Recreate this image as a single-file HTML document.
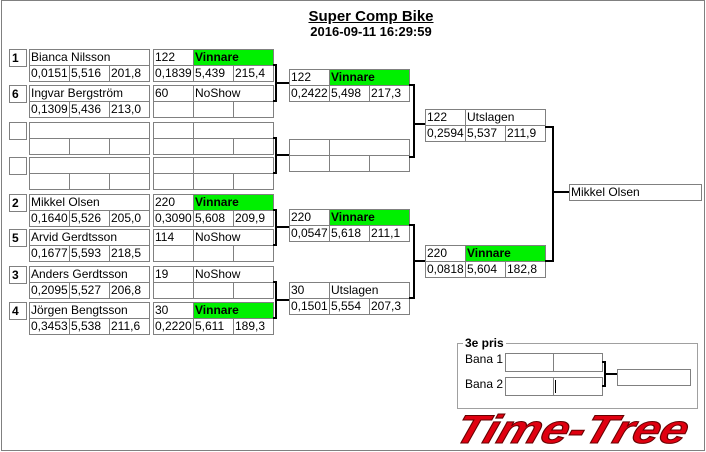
<!DOCTYPE html>
<html><head><meta charset="utf-8"><style>
body{margin:0;width:706px;height:452px;background:#fff;position:relative;overflow:hidden;font-family:"Liberation Sans",sans-serif}
.c{position:absolute;border:1px solid #808080;box-sizing:border-box;height:17px;font-size:12px;line-height:15px;padding-left:1px;overflow:hidden;white-space:nowrap;color:#000;background:#fff}
.w{width:121px}.n{width:41px}.s{width:81px}
.g{background:#00f000;font-weight:bold}
.sd{position:absolute;left:9px;width:18px;height:18px;border:1px solid #808080;box-sizing:border-box;font-weight:bold;font-size:12px;line-height:16px;padding-left:2px}
.t{position:absolute;font-weight:bold;text-align:center;width:200px;left:271px}
</style></head><body>
<div style="position:absolute;left:1px;top:0;width:704px;height:451px;border:1px solid #808080;box-sizing:border-box"></div>
<div class="t" style="top:8px;font-size:15px;text-decoration:underline">Super Comp Bike</div>
<div class="t" style="top:24px;font-size:13px">2016-09-11 16:29:59</div>

<!-- Round 1 -->
<div class="sd" style="top:49px">1</div>
<div class="c w" style="left:29px;top:49px">Bianca Nilsson</div>
<div class="c n" style="left:29px;top:65px">0,0151</div><div class="c n" style="left:69px;top:65px">5,516</div><div class="c n" style="left:109px;top:65px">201,8</div>
<div class="c n" style="left:153px;top:49px">122</div><div class="c s g" style="left:193px;top:49px">Vinnare</div>
<div class="c n" style="left:153px;top:65px">0,1839</div><div class="c n" style="left:193px;top:65px">5,439</div><div class="c n" style="left:233px;top:65px">215,4</div>

<div class="sd" style="top:85px">6</div>
<div class="c w" style="left:29px;top:85px">Ingvar Bergström</div>
<div class="c n" style="left:29px;top:101px">0,1309</div><div class="c n" style="left:69px;top:101px">5,436</div><div class="c n" style="left:109px;top:101px">213,0</div>
<div class="c n" style="left:153px;top:85px">60</div><div class="c s" style="left:193px;top:85px">NoShow</div>
<div class="c n" style="left:153px;top:101px"></div><div class="c n" style="left:193px;top:101px"></div><div class="c n" style="left:233px;top:101px"></div>

<div class="sd" style="top:122px"></div>
<div class="c w" style="left:29px;top:122px"></div>
<div class="c n" style="left:29px;top:138px"></div><div class="c n" style="left:69px;top:138px"></div><div class="c n" style="left:109px;top:138px"></div>
<div class="c n" style="left:153px;top:122px"></div><div class="c s" style="left:193px;top:122px"></div>
<div class="c n" style="left:153px;top:138px"></div><div class="c n" style="left:193px;top:138px"></div><div class="c n" style="left:233px;top:138px"></div>

<div class="sd" style="top:157px"></div>
<div class="c w" style="left:29px;top:157px"></div>
<div class="c n" style="left:29px;top:173px"></div><div class="c n" style="left:69px;top:173px"></div><div class="c n" style="left:109px;top:173px"></div>
<div class="c n" style="left:153px;top:157px"></div><div class="c s" style="left:193px;top:157px"></div>
<div class="c n" style="left:153px;top:173px"></div><div class="c n" style="left:193px;top:173px"></div><div class="c n" style="left:233px;top:173px"></div>

<div class="sd" style="top:194px">2</div>
<div class="c w" style="left:29px;top:194px">Mikkel Olsen</div>
<div class="c n" style="left:29px;top:210px">0,1640</div><div class="c n" style="left:69px;top:210px">5,526</div><div class="c n" style="left:109px;top:210px">205,0</div>
<div class="c n" style="left:153px;top:194px">220</div><div class="c s g" style="left:193px;top:194px">Vinnare</div>
<div class="c n" style="left:153px;top:210px">0,3090</div><div class="c n" style="left:193px;top:210px">5,608</div><div class="c n" style="left:233px;top:210px">209,9</div>

<div class="sd" style="top:229px">5</div>
<div class="c w" style="left:29px;top:229px">Arvid Gerdtsson</div>
<div class="c n" style="left:29px;top:245px">0,1677</div><div class="c n" style="left:69px;top:245px">5,593</div><div class="c n" style="left:109px;top:245px">218,5</div>
<div class="c n" style="left:153px;top:229px">114</div><div class="c s" style="left:193px;top:229px">NoShow</div>
<div class="c n" style="left:153px;top:245px"></div><div class="c n" style="left:193px;top:245px"></div><div class="c n" style="left:233px;top:245px"></div>

<div class="sd" style="top:266px">3</div>
<div class="c w" style="left:29px;top:266px">Anders Gerdtsson</div>
<div class="c n" style="left:29px;top:282px">0,2095</div><div class="c n" style="left:69px;top:282px">5,527</div><div class="c n" style="left:109px;top:282px">206,8</div>
<div class="c n" style="left:153px;top:266px">19</div><div class="c s" style="left:193px;top:266px">NoShow</div>
<div class="c n" style="left:153px;top:282px"></div><div class="c n" style="left:193px;top:282px"></div><div class="c n" style="left:233px;top:282px"></div>

<div class="sd" style="top:302px">4</div>
<div class="c w" style="left:29px;top:302px">Jörgen Bengtsson</div>
<div class="c n" style="left:29px;top:318px">0,3453</div><div class="c n" style="left:69px;top:318px">5,538</div><div class="c n" style="left:109px;top:318px">211,6</div>
<div class="c n" style="left:153px;top:302px">30</div><div class="c s g" style="left:193px;top:302px">Vinnare</div>
<div class="c n" style="left:153px;top:318px">0,2220</div><div class="c n" style="left:193px;top:318px">5,611</div><div class="c n" style="left:233px;top:318px">189,3</div>

<!-- Round 2 -->
<div class="c n" style="left:289px;top:69px">122</div><div class="c s g" style="left:329px;top:69px">Vinnare</div>
<div class="c n" style="left:289px;top:85px">0,2422</div><div class="c n" style="left:329px;top:85px">5,498</div><div class="c n" style="left:369px;top:85px">217,3</div>

<div class="c n" style="left:289px;top:139px"></div><div class="c s" style="left:329px;top:139px"></div>
<div class="c n" style="left:289px;top:155px"></div><div class="c n" style="left:329px;top:155px"></div><div class="c n" style="left:369px;top:155px"></div>

<div class="c n" style="left:289px;top:209px">220</div><div class="c s g" style="left:329px;top:209px">Vinnare</div>
<div class="c n" style="left:289px;top:225px">0,0547</div><div class="c n" style="left:329px;top:225px">5,618</div><div class="c n" style="left:369px;top:225px">211,1</div>

<div class="c n" style="left:289px;top:282px">30</div><div class="c s" style="left:329px;top:282px">Utslagen</div>
<div class="c n" style="left:289px;top:298px">0,1501</div><div class="c n" style="left:329px;top:298px">5,554</div><div class="c n" style="left:369px;top:298px">207,3</div>

<!-- Round 3 -->
<div class="c n" style="left:425px;top:109px">122</div><div class="c s" style="left:465px;top:109px">Utslagen</div>
<div class="c n" style="left:425px;top:125px">0,2594</div><div class="c n" style="left:465px;top:125px">5,537</div><div class="c n" style="left:505px;top:125px">211,9</div>

<div class="c n" style="left:425px;top:245px">220</div><div class="c s g" style="left:465px;top:245px">Vinnare</div>
<div class="c n" style="left:425px;top:261px">0,0818</div><div class="c n" style="left:465px;top:261px">5,604</div><div class="c n" style="left:505px;top:261px">182,8</div>

<div class="c" style="left:569px;top:184px;width:133px">Mikkel Olsen</div>

<!-- 3e pris -->
<div style="position:absolute;left:457px;top:343px;width:241px;height:66px;border:1px solid #a0a0a0;box-sizing:border-box"></div>
<div style="position:absolute;left:463px;top:336px;background:#fff;padding:0 2px;font-weight:bold;font-size:12px">3e pris</div>
<div style="position:absolute;left:465px;top:352px;font-size:12px">Bana 1</div>
<div style="position:absolute;left:465px;top:377px;font-size:12px">Bana 2</div>
<div class="c" style="left:505px;top:353px;width:49px;height:19px"></div><div class="c" style="left:553px;top:353px;width:50px;height:19px"></div>
<div class="c" style="left:505px;top:377px;width:49px;height:19px"></div><div class="c" style="left:553px;top:377px;width:50px;height:19px"></div>
<div style="position:absolute;left:555px;top:380px;width:1px;height:13px;background:#000"></div>
<div class="c" style="left:617px;top:369px;width:74px;height:17px"></div>

<svg width="706" height="452" style="position:absolute;left:0;top:0" fill="none" stroke="#000" stroke-width="2">
<path d="M273 65H276V101H273M276 83H289"/>
<path d="M273 138H276V173H273M276 155H289"/>
<path d="M273 210H276V245H273M276 227H289"/>
<path d="M273 282H276V318H273M276 300H289"/>
<path d="M409 85H414V157H409M414 124H425"/>
<path d="M409 225H414V298H409M414 261H425"/>
<path d="M545 127H553V261H545M553 192H569"/>
<path d="M602 362H605V386H602M605 374H617"/>
<g transform="translate(452,443) skewX(-18)">
<text x="0" y="0" textLength="232" lengthAdjust="spacingAndGlyphs" font-family="Liberation Sans" font-weight="bold" font-style="italic" font-size="40" fill="#e00010" stroke="#600" stroke-width="1">Time-Tree</text>
</g>
</svg>
</body></html>
